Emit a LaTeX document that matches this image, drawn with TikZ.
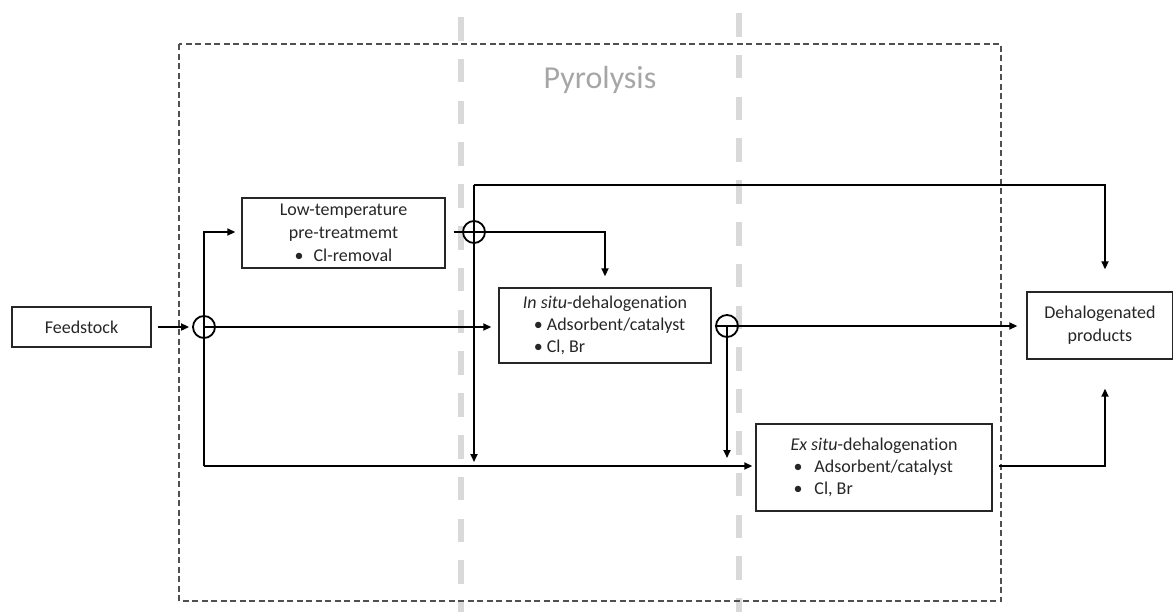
\documentclass[tikz,border=0pt]{standalone}
\usepackage{fontspec}
\setmainfont[Ligatures={NoCommon}]{Carlito}
\usetikzlibrary{arrows.meta}
\definecolor{txt}{HTML}{262626}
\definecolor{pyro}{HTML}{A6A6A6}
\definecolor{lightdash}{HTML}{D9D9D9}
\definecolor{boxdash}{HTML}{505050}
\tikzset{
  procbox/.style={draw=black!85, line width=1.4pt, inner sep=0pt, text=txt,
    font=\fontsize{18}{23}\selectfont, align=center},
  junction/.style={circle, draw=black, line width=1.8pt, minimum size=22pt, inner sep=0pt},
  flow/.style={draw=black, line width=1.8pt},
  arr/.style={flow, -{Triangle[length=8pt,width=7pt]}},
  zone/.style={draw=lightdash, line width=6.5pt, dash pattern=on 23.5pt off 18.3pt},
  frame/.style={draw=boxdash, line width=1.4pt, dash pattern=on 6pt off 3.5pt}
}
\begin{document}
\begin{tikzpicture}[x=1pt,y=-1pt]
\useasboundingbox (0,0) rectangle (1173,611);
% zone separators
\draw[zone] (461,-24.8) -- (461,640);
\draw[zone] (739,-28.8) -- (739,640);
% pyrolysis frame
\draw[frame] (179,44) rectangle (1001,601);
\node[text=pyro, font=\fontsize{32}{38}\selectfont] (pyr) at (600,80) {Pyrolysis};
% boxes
\node[procbox, minimum width=139pt, minimum height=40pt] (feed) at (81.5,327) {Feedstock};
\node[procbox, minimum width=203pt, minimum height=70pt] (low) at (343.5,233)
  {Low-temperature\\pre-treatmemt\\•\hspace{10pt}Cl-removal};
\node[procbox, minimum width=212pt, minimum height=75pt] (insitu) at (605,325.5)
  {\begin{tabular}{@{}l@{}}\multicolumn{1}{@{}c@{}}{\textit{In situ}-dehalogenation}\\[-1pt]
   \hspace{11pt}•\hspace{4pt}Adsorbent/catalyst\\[-1pt]
   \hspace{11pt}•\hspace{4pt}Cl, Br\end{tabular}};
\node[procbox, minimum width=236pt, minimum height=87pt] (ex) at (874,467.5)
  {\begin{tabular}{@{}l@{}}\textit{Ex situ}-dehalogenation\\[-1pt]
   \hspace{3pt}•\hspace{12pt}Adsorbent/catalyst\\[-1pt]
   \hspace{3pt}•\hspace{12pt}Cl, Br\end{tabular}};
\node[procbox, minimum width=146pt, minimum height=67pt] (dehal) at (1100,325.5)
  {Dehalogenated\\products};
% junctions
\node[junction] (c1) at (204,327) {};
\node[junction] (c2) at (474,232) {};
\node[junction] (c3) at (727,326) {};
% auxiliary coordinates
\coordinate (ul) at (204,232);
\coordinate (bl) at (204,466);
\coordinate (tl) at (474,185);
\coordinate (tr) at (1105,185);
\coordinate (br) at (1105,466);
% connectors
\draw[arr, shorten <=6pt, shorten >=3pt] (feed.east |- c1) -- (c1.west);
\draw[arr, shorten >=6pt] (bl) -- (ul) -- (ul -| low.west);
\draw[arr, shorten >=7pt] (c1.center) -- (c1 -| insitu.west);
\draw[arr, shorten >=3pt] (bl) -- (bl -| ex.west);
\draw[arr, shorten <=8pt, shorten >=11pt] (c2 -| low.east) -| (insitu.north);
\draw[arr, shorten >=4pt] (tl) -- (tl |- bl);
\draw[arr, shorten >=22pt] (tl) -- (tr) -- (tr |- dehal.north);
\draw[arr, shorten <=4pt, shorten >=9pt] (c3 -| insitu.east) -- (c3 -| dehal.west);
\draw[arr, shorten >=8pt] (c3.center) -- (c3 |- bl);
\draw[arr, shorten <=6pt, shorten >=29pt] (bl -| ex.east) -- (br) -- (br |- dehal.south);
\end{tikzpicture}
\end{document}
